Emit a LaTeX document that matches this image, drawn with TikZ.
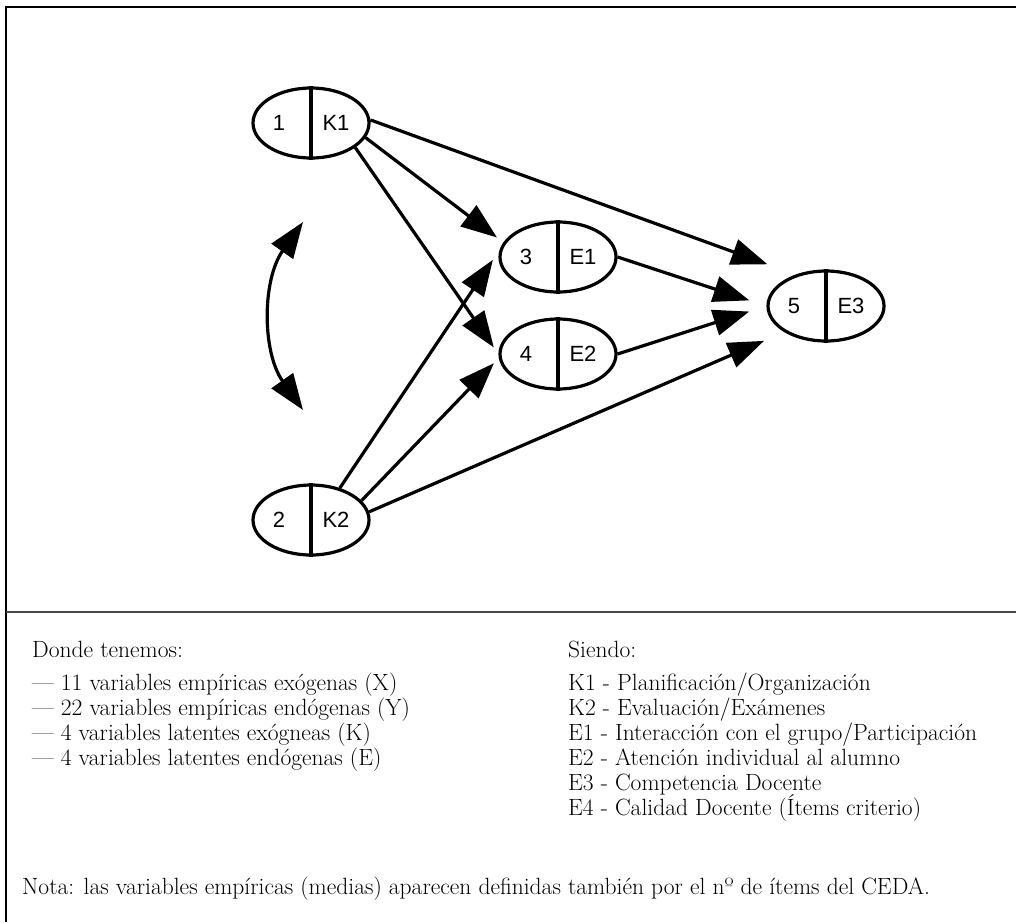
\documentclass[tikz,border=0pt]{standalone}
\usepackage{fontspec}
\newfontfamily\labelfont{Liberation Sans}
\usetikzlibrary{arrows.meta,shapes.geometric}

\tikzset{
  latent/.style={ellipse, draw, line width=3.2pt, minimum width=116pt,
    minimum height=70pt, inner sep=0pt},
  divider/.style={line width=3.2pt},
  varlab/.style={font=\labelfont\fontsize{22}{26}\selectfont, inner sep=0pt},
  bighead/.tip={Triangle[length=36pt,width=26pt]},
  effect/.style={line width=3.2pt, -bighead},
  covar/.style={line width=3.2pt, bighead-bighead},
  frameline/.style={line width=1.8pt},
  sepline/.style={line width=2.6pt, draw=black!72},
  txt/.style={font=\fontsize{23.5}{28}\selectfont, inner sep=0pt, anchor=base west},
}

% latent variable: name, x, y, number, letter
\newcommand\latentvar[5]{%
  \node[latent] (#1) at (#2,#3) {};
  \draw[divider] (#1.north) -- (#1.south);
  \node[varlab] (#1-num) at ([xshift=-32pt]#1.center) {#4};
  \node[varlab] (#1-let) at ([xshift=25pt]#1.center) {#5};
}

\begin{document}
\begin{tikzpicture}[x=1pt,y=-1pt]
\useasboundingbox (0,0) rectangle (1016,922);

% frame
\coordinate (fl-top) at (6,7);
\coordinate (fl-bot) at (6,922);
\coordinate (fr-top) at (1016,7);
\coordinate (sep-l) at (6,612);
\coordinate (sep-r) at (1016,612);
\draw[frameline] (fl-bot) -- (fl-top) -- (fr-top);
\draw[sepline] (sep-l) -- (sep-r);

% latent variables
\latentvar{k1}{311}{123}{1}{K1}
\latentvar{k2}{311}{520}{2}{K2}
\latentvar{e1}{558}{257}{3}{E1}
\latentvar{e2}{558}{354}{4}{E2}
\latentvar{e3}{826}{306}{5}{E3}

% structural paths
\draw[effect, shorten >=30pt] (k1.3) -- (e3.134);
\draw[effect, shorten >=8pt] (k1.-15) -- (e1.165);
\draw[effect, shorten >=8pt] (k1.-29) -- (e2.west);
\draw[effect, shorten >=12pt] (k2.48) -- (e1.173);
\draw[effect, shorten >=7pt] (k2.21) -- (e2.184);
\draw[effect, shorten >=22pt] (k2.8) -- (e3.212);
\draw[effect, shorten >=18pt] (e1.east) -- (e3.west);
\draw[effect, shorten >=18pt] (e2.east) -- (e3.west);

% covariance between exogenous factors
\coordinate (cov-a) at (303,222);
\coordinate (cov-b) at (303,410);
\draw[covar] (cov-a) .. controls (262,280) and (262,352) .. (cov-b);

% legend, left column
\node[txt] (donde) at (32,657) {Donde tenemos:};
\node[txt] (l1) at (32,690) {— 11 variables empíricas exógenas (X)};
\node[txt] (l2) at (32,715) {— 22 variables empíricas endógenas (Y)};
\node[txt] (l3) at (32,740) {— 4 variables latentes exógneas (K)};
\node[txt] (l4) at (32,765) {— 4 variables latentes endógenas (E)};

% legend, right column
\node[txt] (siendo) at (568,657) {Siendo:};
\node[txt] (r1) at (568,690) {K1 - Planificación/Organización};
\node[txt] (r2) at (568,715) {K2 - Evaluación/Exámenes};
\node[txt] (r3) at (568,740) {E1 - Interacción con el grupo/Participación};
\node[txt] (r4) at (568,765) {E2 - Atención individual al alumno};
\node[txt] (r5) at (568,790) {E3 - Competencia Docente};
\node[txt] (r6) at (568,815) {E4 - Calidad Docente (Ítems criterio)};

% note
\node[txt] (nota) at (22,894) {Nota: las variables empíricas (medias) aparecen definidas también por el nº de ítems del CEDA.};
\end{tikzpicture}
\end{document}
